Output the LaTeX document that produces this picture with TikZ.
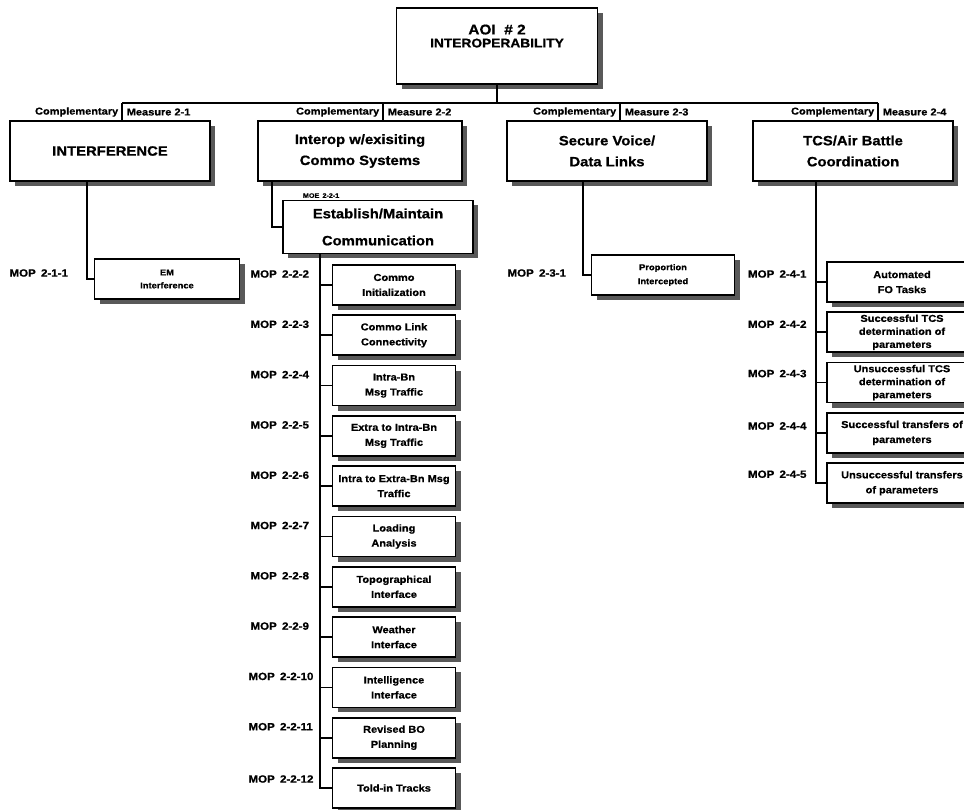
\documentclass[tikz,border=0pt]{standalone}
\usepackage{fontspec}
\setmainfont{Liberation Sans}[FakeStretch=1.1, BoldFeatures={FakeBold=0.8}]
\usetikzlibrary{positioning, shadows}

\begin{document}
\begin{tikzpicture}[x=1pt, y=-1pt, node distance={50.3pt}, line width=1.6pt,
  boxshadow/.style = {general shadow={fill=black!65, shadow xshift=5pt, shadow yshift=-5pt}},
  topbox/.style = {draw, fill=white, boxshadow, align=center, minimum width=201pt, minimum height=76pt, font=\bfseries},
  area/.style = {draw, fill=white, boxshadow, align=center, minimum width=200pt, minimum height=60pt, font=\bfseries\fontsize{13.5}{21}\selectfont},
  leaf/.style = {draw, fill=white, boxshadow, align=center, minimum width=123pt, minimum height=40pt, inner sep=2pt, font=\bfseries\fontsize{10}{15}\selectfont},
  wide/.style = {leaf, minimum width=150pt},
  tight/.style = {font=\bfseries\fontsize{10}{13}\selectfont},
  tag/.style = {font=\bfseries\fontsize{10}{11}\selectfont, inner sep=1pt},
  mop/.style = {font=\bfseries\fontsize{10.5}{11}\selectfont, anchor=west, inner sep=0pt}]
\clip (0,0) rectangle (964,810);
\fill[white] (0,0) rectangle (964,810);

% top of the tree
\node[topbox, text depth=20pt] (aoi) at (497,46) {{\fontsize{14}{17}\selectfont AOI\ \ \# 2}\\[1pt]{\fontsize{12.5}{14}\selectfont INTEROPERABILITY}};

\coordinate (bus1) at (122,103);
\coordinate (bus2) at (383,103);
\coordinate (bus3) at (620,103);
\coordinate (bus4) at (878,103);

% complementary measures
\node[area] (interf) at (110,151) {INTERFERENCE};
\node[area, minimum width=204pt] (interop) at (360,151) {Interop w/exisiting\\Commo Systems};
\node[area] (secure) at (607,151) {Secure Voice/\\Data Links};
\node[area] (tcs) at (853,151) {TCS/Air Battle\\Coordination};

\node[tag, anchor=east] (comp1) at (120,112) {Complementary};
\node[tag, anchor=west] (meas1) at (125,112) {Measure 2-1};
\node[tag, anchor=east] (comp2) at (381,112) {Complementary};
\node[tag, anchor=west] (meas2) at (386,112) {Measure 2-2};
\node[tag, anchor=east] (comp3) at (618,112) {Complementary};
\node[tag, anchor=west] (meas3) at (623,112) {Measure 2-3};
\node[tag, anchor=east] (comp4) at (876,112) {Complementary};
\node[tag, anchor=west] (meas4) at (881,112) {Measure 2-4};

\draw (aoi.south) -- (aoi.south |- bus1);
\draw (bus1) -- (bus4);
\draw (bus1) -- (bus1 |- interf.north);
\draw (bus2) -- (bus2 |- interop.north);
\draw (bus3) -- (bus3 |- secure.north);
\draw (bus4) -- (bus4 |- tcs.north);

% measure 2-1
\coordinate (trunk1) at (87,0);
\node[leaf, minimum width=145pt, font=\bfseries\fontsize{8.5}{13}\selectfont] (em) at (167,279) {EM\\Interference};
\node[mop] (mop211) at ([xshift=-85pt, yshift=6pt]em.west) {MOP\enspace 2-1-1};
\draw (interf.south -| trunk1) |- (em.west);

% measure 2-2
\coordinate (trunk0) at (272,0);
\node[area, minimum width=190pt, minimum height=53pt, font=\bfseries\fontsize{13.5}{27}\selectfont] (estab) at (378,227) {Establish/Maintain\\Communication};
\node[tag, anchor=south west, font=\bfseries\fontsize{6.5}{7}\selectfont] (moe221) at ([xshift=19pt]estab.north west) {MOE\enspace 2-2-1};
\draw (interop.south -| trunk0) |- (estab.west);

\node[leaf] (init) at (394,285) {Commo\\Initialization};
\node[leaf] (link) [below of=init] {Commo Link\\Connectivity};
\node[leaf] (intra) [below of=link] {Intra-Bn\\Msg Traffic};
\node[leaf] (extra) [below of=intra] {Extra to Intra-Bn\\Msg Traffic};
\node[leaf] (cross) [below of=extra] {Intra to Extra-Bn Msg\\Traffic};
\node[leaf] (load) [below of=cross] {Loading\\Analysis};
\node[leaf] (topo) [below of=load] {Topographical\\Interface};
\node[leaf] (wx) [below of=topo] {Weather\\Interface};
\node[leaf] (intel) [below of=wx] {Intelligence\\Interface};
\node[leaf] (bo) [below of=intel] {Revised BO\\Planning};
\node[leaf] (told) [below of=bo] {Told-in Tracks};

\node[mop] (mop222) at ([xshift=-82pt, yshift=11pt]init.west) {MOP\enspace 2-2-2};
\node[mop] (mop223) at ([xshift=-82pt, yshift=11pt]link.west) {MOP\enspace 2-2-3};
\node[mop] (mop224) at ([xshift=-82pt, yshift=11pt]intra.west) {MOP\enspace 2-2-4};
\node[mop] (mop225) at ([xshift=-82pt, yshift=11pt]extra.west) {MOP\enspace 2-2-5};
\node[mop] (mop226) at ([xshift=-82pt, yshift=11pt]cross.west) {MOP\enspace 2-2-6};
\node[mop] (mop227) at ([xshift=-82pt, yshift=11pt]load.west) {MOP\enspace 2-2-7};
\node[mop] (mop228) at ([xshift=-82pt, yshift=11pt]topo.west) {MOP\enspace 2-2-8};
\node[mop] (mop229) at ([xshift=-82pt, yshift=11pt]wx.west) {MOP\enspace 2-2-9};
\node[mop] (mop2210) at ([xshift=-84pt, yshift=11pt]intel.west) {MOP\enspace 2-2-10};
\node[mop] (mop2211) at ([xshift=-84pt, yshift=11pt]bo.west) {MOP\enspace 2-2-11};
\node[mop] (mop2212) at ([xshift=-84pt, yshift=9pt]told.west) {MOP\enspace 2-2-12};

\coordinate (trunk2) at (320,0);
\draw (estab.south -| trunk2) |- (told.west);
\draw (trunk2 |- init.west) -- (init.west);
\draw (trunk2 |- link.west) -- (link.west);
\draw (trunk2 |- intra.west) -- (intra.west);
\draw (trunk2 |- extra.west) -- (extra.west);
\draw (trunk2 |- cross.west) -- (cross.west);
\draw (trunk2 |- load.west) -- (load.west);
\draw (trunk2 |- topo.west) -- (topo.west);
\draw (trunk2 |- wx.west) -- (wx.west);
\draw (trunk2 |- intel.west) -- (intel.west);
\draw (trunk2 |- bo.west) -- (bo.west);

% measure 2-3
\coordinate (trunk3) at (583,0);
\node[leaf, minimum width=143pt, font=\bfseries\fontsize{8.5}{14}\selectfont] (prop) at (663,275) {Proportion\\Intercepted};
\node[mop] (mop231) at ([xshift=-84pt, yshift=2pt]prop.west) {MOP\enspace 2-3-1};
\draw (secure.south -| trunk3) |- (prop.west);

% measure 2-4
\coordinate (trunk4) at (816,0);
\node[wide] (fo) at (902,282) {Automated\\FO Tasks};
\node[wide, tight] (okdet) [below of=fo] {Successful TCS\\determination of\\parameters};
\node[wide, tight] (baddet) [below of=okdet] {Unsuccessful TCS\\determination of\\parameters};
\node[wide] (okxfer) [below of=baddet] {Successful transfers of\\parameters};
\node[wide] (badxfer) [below of=okxfer] {Unsuccessful transfers\\of parameters};

\node[mop] (mop241) at ([xshift=-79pt, yshift=8pt]fo.west) {MOP\enspace 2-4-1};
\node[mop] (mop242) at ([xshift=-79pt, yshift=8pt]okdet.west) {MOP\enspace 2-4-2};
\node[mop] (mop243) at ([xshift=-79pt, yshift=9pt]baddet.west) {MOP\enspace 2-4-3};
\node[mop] (mop244) at ([xshift=-79pt, yshift=7pt]okxfer.west) {MOP\enspace 2-4-4};
\node[mop] (mop245) at ([xshift=-79pt, yshift=9pt]badxfer.west) {MOP\enspace 2-4-5};

\draw (tcs.south -| trunk4) |- (badxfer.west);
\draw (trunk4 |- fo.west) -- (fo.west);
\draw (trunk4 |- okdet.west) -- (okdet.west);
\draw (trunk4 |- baddet.west) -- (baddet.west);
\draw (trunk4 |- okxfer.west) -- (okxfer.west);
\end{tikzpicture}
\end{document}
